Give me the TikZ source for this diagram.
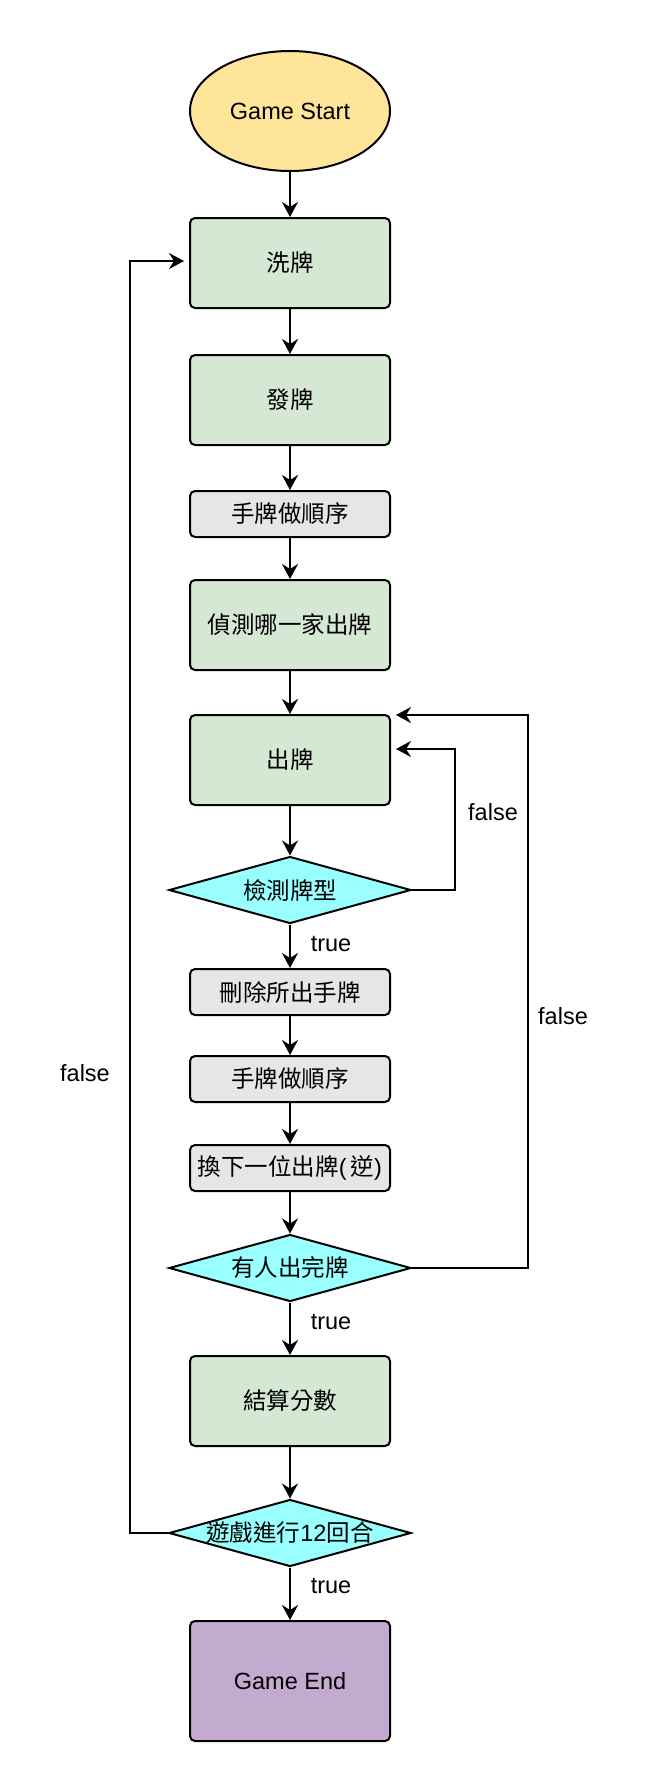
\documentclass[tikz,border=0pt]{standalone}
\usepackage{fontspec}
\setmainfont{Liberation Sans}
\newfontfamily\cjk{Noto Sans CJK TC}
\usetikzlibrary{arrows.meta,shapes.geometric}
\definecolor{startfill}{HTML}{FFE599}
\definecolor{greenfill}{HTML}{D5E8D4}
\definecolor{grayfill}{HTML}{E6E6E6}
\definecolor{cyanfill}{HTML}{99FFFF}
\definecolor{purplefill}{HTML}{C3ABD0}
\begin{document}
\begin{tikzpicture}[x=1pt,y=-1pt, line width=2pt,
  every node/.style={font=\fontsize{23.5}{28}\selectfont, inner sep=0pt},
  base/.style={draw=black, rounded corners=5pt, minimum width=200pt},
  greenbox/.style={base, fill=greenfill, minimum height=90pt},
  graybox/.style={base, fill=grayfill, minimum height=46pt},
  endbox/.style={base, fill=purplefill, minimum height=120pt},
  startell/.style={ellipse, draw=black, fill=startfill, minimum width=200pt, minimum height=120pt},
  decision/.style={diamond, draw=black, fill=cyanfill, minimum width=242pt, minimum height=67pt},
  arr/.style={-{Stealth[length=15pt,width=16pt,inset=5pt]}},
  lbl/.style={}
]
\useasboundingbox (0,0) rectangle (648,1792);

\node[startell] (start) at (290,111) {Game Start};
\node[greenbox] (b1) at (290,263) {\cjk 洗牌};
\node[greenbox] (b2) at (290,400) {\cjk 發牌};
\node[graybox]  (b3) at (290,514) {\cjk 手牌做順序};
\node[greenbox] (b4) at (290,625) {\cjk 偵測哪一家出牌};
\node[greenbox] (b5) at (290,760) {\cjk 出牌};
\node[decision] (d1) at (290,890) {\makebox[0pt]{\cjk 檢測牌型}};
\node[graybox]  (b6) at (290,992) {\cjk 刪除所出手牌};
\node[graybox]  (b7) at (290,1079) {\cjk 手牌做順序};
\node[graybox]  (b8) at (290,1168) {{\cjk 換下一位出牌}(\,{\cjk 逆})};
\node[decision] (d2) at (290,1268) {\makebox[0pt]{\cjk 有人出完牌}};
\node[greenbox] (b9) at (290,1401) {\cjk 結算分數};
\node[decision] (d3) at (290,1533) {\makebox[0pt]{{\cjk 遊戲進行}12{\cjk 回合}}};
\node[endbox]   (end) at (290,1681) {Game End};

\draw[arr] (start.south) -- (b1.north);
\draw[arr] (b1.south) -- (b2.north);
\draw[arr] (b2.south) -- (b3.north);
\draw[arr] (b3.south) -- (b4.north);
\draw[arr] (b4.south) -- (b5.north);
\draw[arr] (b5.south) -- (d1.north);
\draw[arr] (d1.south) -- (b6.north);
\draw[arr] (b6.south) -- (b7.north);
\draw[arr] (b7.south) -- (b8.north);
\draw[arr] (b8.south) -- (d2.north);
\draw[arr] (d2.south) -- (b9.north);
\draw[arr] (b9.south) -- (d3.north);
\draw[arr] (d3.south) -- (end.north);

\coordinate (l1) at (455,749);
\coordinate (l2) at (528,715);
\coordinate (l3) at (130,261);
\draw[arr, shorten >=5pt] (d1.east) -| (l1) -- (l1 -| b5.east);
\draw[arr, shorten >=5pt] (d2.east) -| (l2) -- (l2 -| b5.east);
\draw[arr, shorten >=5pt] (d3.west) -| (l3) -- (l3 -| b1.west);

\node[lbl] (t1) at (331,944) {true};
\node[lbl] (t2) at (331,1322) {true};
\node[lbl] (t3) at (331,1586) {true};
\node[lbl] (f1) at (493,812) {false};
\node[lbl] (f2) at (563,1016) {false};
\node[lbl] (f3) at (85,1073) {false};
\end{tikzpicture}
\end{document}
